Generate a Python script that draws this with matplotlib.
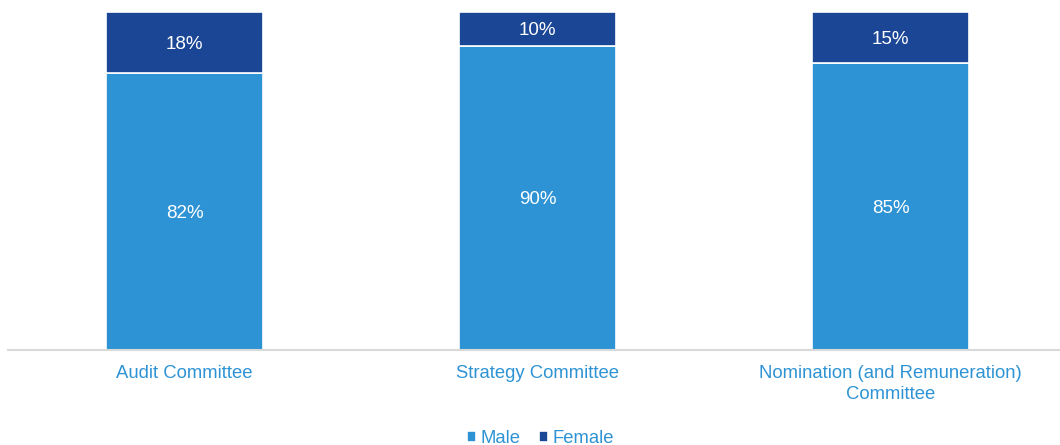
import matplotlib
matplotlib.use("Agg")
import matplotlib.pyplot as plt
import numpy as np

plt.rcParams['font.family'] = ['Liberation Sans', 'DejaVu Sans']

categories = ["Audit Committee", "Strategy Committee", "Nomination (and Remuneration)\nCommittee"]
male = [82, 90, 85]
female = [18, 10, 15]

male_color = "#2E93D4"
female_color = "#1B4595"

fig = plt.figure(figsize=(10.6, 4.45), dpi=100)
ax = fig.add_axes([8 / 1060, 95 / 445, 1059 / 1060, 338 / 445])

x = np.arange(len(categories))
width = 0.445
ax.bar(x, male, width, color=male_color, edgecolor="white", linewidth=1.2, label="Male")
ax.bar(x, female, width, bottom=male, color=female_color, edgecolor="white", linewidth=1.2, label="Female")

# value labels, nudged slightly below segment centres
nudge = -0.6
for i in range(len(categories)):
    ax.text(x[i], male[i] / 2 + nudge, f"{male[i]}%", ha="center", va="center",
            color="white", fontsize=13.5)
    ax.text(x[i], male[i] + female[i] / 2 + nudge, f"{female[i]}%", ha="center", va="center",
            color="white", fontsize=13.5)

ax.set_xlim(-0.5, 2.5)
ax.set_ylim(0, 100)
ax.set_yticks([])
ax.set_xticks(x)
ax.set_xticklabels(categories, color=male_color, fontsize=13.3, linespacing=1.3)
ax.tick_params(axis="x", length=0, pad=11)
for side in ("top", "right", "left"):
    ax.spines[side].set_visible(False)
ax.spines["bottom"].set_color("#D9D9D9")
ax.spines["bottom"].set_linewidth(1.5)

fig.legend(loc="lower center", bbox_to_anchor=(0.51, -0.042), ncol=2, frameon=False,
           fontsize=13.3, handlelength=0.5, handleheight=0.5, handletextpad=0.25,
           columnspacing=1.0, labelcolor=male_color)

fig.savefig("out.png", dpi=100)
